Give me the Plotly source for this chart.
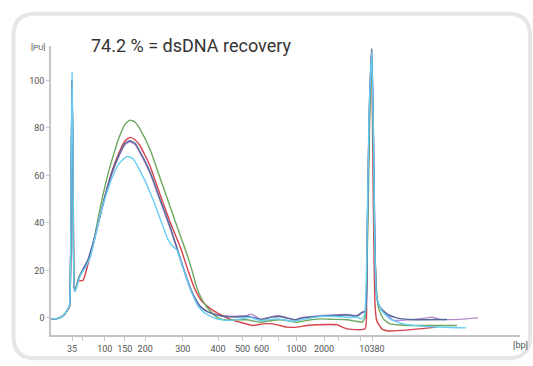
import plotly.graph_objects as go

# ---------------- data (migration time in s, fluorescence in FU) ----------------
ladder_bp = [35, 50, 100, 150, 200, 300, 400, 500, 600, 700, 1000, 2000, 3000, 7000, 10380]
ladder_time = [43.0, 45.7, 51.2, 56.2, 61.3, 70.7, 79.5, 85.65, 90.4, 94.6, 99.1, 106.0, 109.6, 115.0, 118.0]
ladder_labels = ["35", "", "100", "150", "200", "300", "400", "500", "600", "", "1000", "2000", "", "", "10380"]

purple_t = [37.75, 39.25, 40.25, 41.0, 41.75, 42.38, 42.63, 43.0, 43.3, 43.63,
            44.0, 44.75, 45.75, 47.0, 48.25, 50.0, 51.75, 53.25, 55.0, 56.25,
            57.5, 58.75, 60.0, 62.5, 65.0, 67.5, 69.25, 71.25, 73.0, 75.0,
            77.0, 79.0, 81.25, 85.0, 86.75, 88.0, 90.0, 91.75, 94.5, 97.5,
            98.75, 100.0, 103.25, 105.75, 108.25, 111.75, 114.25, 115.5, 116.38, 116.75,
            117.38, 117.95, 118.38, 119.18, 120.0, 121.68, 123.33, 127.5, 131.75, 133.0, 135.0, 140.0, 144.5]
purple_fu = [-0.3, -0.3, 0.3, 1.3, 3, 5, 20, 100, 55, 11.2,
             12.5, 17, 20.5, 24.5, 31.5, 42.5, 54, 62, 69, 73,
             74.2, 73, 69.5, 61, 49.5, 38, 29, 18.5, 10.5, 4.8,
             2.5, 1.5, 0.8, 0.8, 1.0, 1.6, -0.6, 0, 1.0, -0.4,
             -1.0, 0, 0.6, 1.0, 1.25, 1.4, 1.0, 2.4, 3.1, 30,
             90, 112.5, 75, 8.6, 4.5, 1.7, -1.0, -0.8, 0, 0.3, -0.6, -0.6, 0]

red_t = [37.75, 39.25, 40.25, 41.0, 41.75, 42.38, 42.63, 43.0, 43.3, 43.63,
         44.0, 44.5, 45.0, 45.75, 46.25, 47.08, 48.33, 50.0, 51.75, 53.25,
         55.0, 56.25, 57.5, 58.75, 60.0, 62.5, 65.0, 67.5, 70.25, 72.0,
         73.75, 75.5, 77.5, 80.0, 82.5, 85.0, 88.25, 90.75, 93.25, 96.75,
         99.25, 101.75, 107.5, 109.25, 111.75, 116.25, 116.63, 117.13, 117.88, 118.25,
         118.75, 119.18, 120.43, 122.5, 127.5, 134.25]
red_fu = [-0.3, -0.3, 0.3, 1.3, 3, 5, 20, 100, 55, 11.5,
          12.5, 15.5, 15.6, 15.8, 18, 23.2, 31, 43, 54.5, 63,
          70.5, 74.5, 76, 75, 72.5, 64, 52, 40.5, 29, 20,
          12, 7, 4, 1.5, -0.5, -1.8, -3.2, -2.5, -2.5, -3.9,
          -3.9, -3.2, -2.8, -2.9, -4.6, -4.6, 10, 70, 113, 60,
          5.8, -1.1, -4.6, -5.5, -5.0, -3.9]

green_t = [37.75, 39.25, 40.25, 41.0, 41.75, 42.38, 42.63, 43.0, 43.3, 43.63,
           44.0, 45.0, 46.25, 47.5, 48.75, 50.0, 51.75, 53.25, 55.0, 56.25,
           57.5, 58.75, 60.0, 62.5, 65.0, 67.5, 70.0, 71.5, 73.0, 74.25,
           75.75, 77.5, 79.5, 80.75, 83.75, 86.75, 90.0, 92.5, 95.0, 97.0,
           99.25, 102.0, 105.0, 108.25, 111.75, 114.0, 115.5, 116.25, 116.75, 117.38,
           117.88, 118.25, 118.75, 119.58, 120.83, 122.5, 125.0, 127.5, 132.5, 139.25]
green_fu = [-0.3, -0.3, 0.3, 1.3, 3, 5, 20, 100, 55, 11.5,
            13, 18.3, 21.5, 26, 35, 46, 59, 68, 77, 81.5,
            83.3, 82.5, 79.5, 71, 59, 47, 35, 28, 20, 12.5,
            7, 3, 0, -0.8, -0.8, -0.8, -1.8, -1.2, -0.8, -1.2,
            -1.8, -1.0, -0.4, -0.6, -0.8, -1.4, -1.8, 0, 20, 80,
            112, 80, 25, 4.5, -0.4, -2.5, -3.0, -3.2, -3.2, -3.2]

slate_t = [37.75, 39.25, 40.25, 41.0, 41.75, 42.38, 42.63, 43.0, 43.3, 43.63,
           44.0, 44.75, 45.75, 47.0, 48.25, 50.0, 51.75, 53.25, 55.0, 56.25,
           57.5, 58.75, 60.0, 62.5, 65.0, 67.5, 69.25, 71.25, 73.0, 75.0,
           77.0, 79.0, 81.25, 83.75, 86.75, 88.75, 90.5, 92.5, 95.0, 97.5,
           99.0, 100.5, 103.25, 105.75, 108.25, 111.75, 114.25, 115.5, 116.38, 116.75,
           117.38, 117.95, 118.38, 119.18, 120.0, 121.68, 124.18, 127.5, 131.75, 136.75]
slate_fu = [-0.3, -0.3, 0.3, 1.3, 3, 5, 20, 100, 55, 11.2,
            12.5, 17, 20.5, 24.5, 31.5, 43, 54.5, 62.5, 69.5, 73.5,
            74.6, 73.5, 70, 61.5, 50, 38.5, 29.5, 19, 11, 5,
            2.5, 1.3, 0.6, 0.4, 0.6, 0, -0.6, 0.2, 0.6, -0.3,
            -0.8, 0, 0.5, 0.8, 1.0, 1.2, 0.8, 2.2, 3.0, 30,
            90, 113.5, 75, 8.6, 4.5, 1.7, 0, -0.7, -0.8, -0.7]

cyan_t = [37.75, 39.25, 40.25, 41.0, 41.75, 42.38, 42.63, 43.0, 43.3, 43.63,
          43.88, 44.58, 45.43, 46.25, 47.5, 48.75, 50.0, 51.75, 53.25, 55.0,
          56.75, 58.25, 60.0, 62.5, 65.0, 67.0, 68.0, 69.25, 70.75, 72.5,
          74.5, 76.5, 79.18, 82.5, 85.0, 87.5, 90.0, 94.18, 98.33, 101.25,
          105.0, 109.18, 112.5, 114.18, 115.43, 116.13, 116.63, 117.25, 117.95, 118.38,
          119.18, 120.43, 122.5, 125.83, 131.68, 141.5]
cyan_fu = [-0.3, -0.3, 0.3, 1.3, 3, 5.5, 25, 103.3, 60, 11.5,
           11.5, 15.6, 19, 21, 25.3, 33.6, 43, 53, 60, 65.5,
           68, 67, 62, 53, 42, 33, 30.5, 28.5, 21, 12.5,
           5, 1.7, -0.4, -1.1, -0.5, 0.3, -1.1, -0.4, -1.4, -0.5,
           0.6, 0.6, 0.2, 0.3, -0.4, 1.0, 20, 85, 112, 75,
           8.6, 3.1, -0.4, -2.5, -3.6, -4.2]

series = [
    ("purple", purple_t, purple_fu, "#b68ccf"),
    ("red", red_t, red_fu, "#d4424e"),
    ("green", green_t, green_fu, "#6da85c"),
    ("slate", slate_t, slate_fu, "#56699b"),
    ("cyan", cyan_t, cyan_fu, "#66cdf4"),
]

# ---------------- figure ----------------
W, H = 533, 366
L, R, T, B = 51, 13, 46, 28
PW, PH = W - L - R, H - T - B


def px_x(px):
    return (px - L) / PW


def px_y(py):
    return (H - B - py) / PH


fig = go.Figure()
for name, t, fu, col in series:
    fig.add_trace(go.Scatter(x=t, y=fu, mode="lines", name=name,
                             line=dict(color=col, width=1.4, shape="spline", smoothing=0.5),
                             hoverinfo="skip"))

# rounded frame
x0, y0, x1, y1, r = 13.5, 13.5, 530, 361.5, 22
path = (f"M {px_x(x0 + r)},{px_y(y0)} L {px_x(x1 - r)},{px_y(y0)} "
        f"Q {px_x(x1)},{px_y(y0)} {px_x(x1)},{px_y(y0 + r)} L {px_x(x1)},{px_y(y1 - r)} "
        f"Q {px_x(x1)},{px_y(y1)} {px_x(x1 - r)},{px_y(y1)} L {px_x(x0 + r)},{px_y(y1)} "
        f"Q {px_x(x0)},{px_y(y1)} {px_x(x0)},{px_y(y1 - r)} L {px_x(x0)},{px_y(y0 + r)} "
        f"Q {px_x(x0)},{px_y(y0)} {px_x(x0 + r)},{px_y(y0)} Z")

fig.update_layout(
    width=W, height=H,
    margin=dict(l=L, r=R, t=T, b=B, pad=0),
    paper_bgcolor="white", plot_bgcolor="white",
    showlegend=False,
    font=dict(family="Roboto", color="#555555", size=9),
    shapes=[dict(type="path", path=path, xref="paper", yref="paper",
                 line=dict(color="#e6e6e6", width=4), layer="below")],
    annotations=[
        dict(text="74.2 % = dsDNA recovery", xref="paper", yref="paper",
             x=px_x(89), y=px_y(45), xanchor="left", yanchor="middle",
             showarrow=False, font=dict(family="Roboto", size=18, color="#333333")),
        dict(text="[PU]", xref="paper", yref="paper", x=px_x(47), y=px_y(48),
             xanchor="right", yanchor="middle", showarrow=False,
             font=dict(family="Roboto", size=8, color="#555555")),
        dict(text="[bp]", xref="paper", yref="paper", x=px_x(520), y=px_y(348),
             xanchor="center", yanchor="middle", showarrow=False,
             font=dict(family="Roboto", size=9, color="#555555")),
    ],
)

fig.update_xaxes(range=[37.75, 155.0], tickmode="array", tickvals=ladder_time,
                 ticktext=ladder_labels, ticks="outside", ticklen=4, tickwidth=1,
                 tickcolor="#c4c4c4", showline=True, linecolor="#c4c4c4", linewidth=1.5,
                 showgrid=False, zeroline=False, tickfont=dict(size=9, color="#555555"))
fig.update_yaxes(range=[-7.2, 114.5], tickmode="array", tickvals=[0, 20, 40, 60, 80, 100],
                 ticks="outside", ticklen=3, tickwidth=1, tickcolor="#c4c4c4",
                 showline=True, linecolor="#c4c4c4", linewidth=1.5,
                 showgrid=False, zeroline=False, tickfont=dict(size=9, color="#555555"))

fig.write_html("out.html")
